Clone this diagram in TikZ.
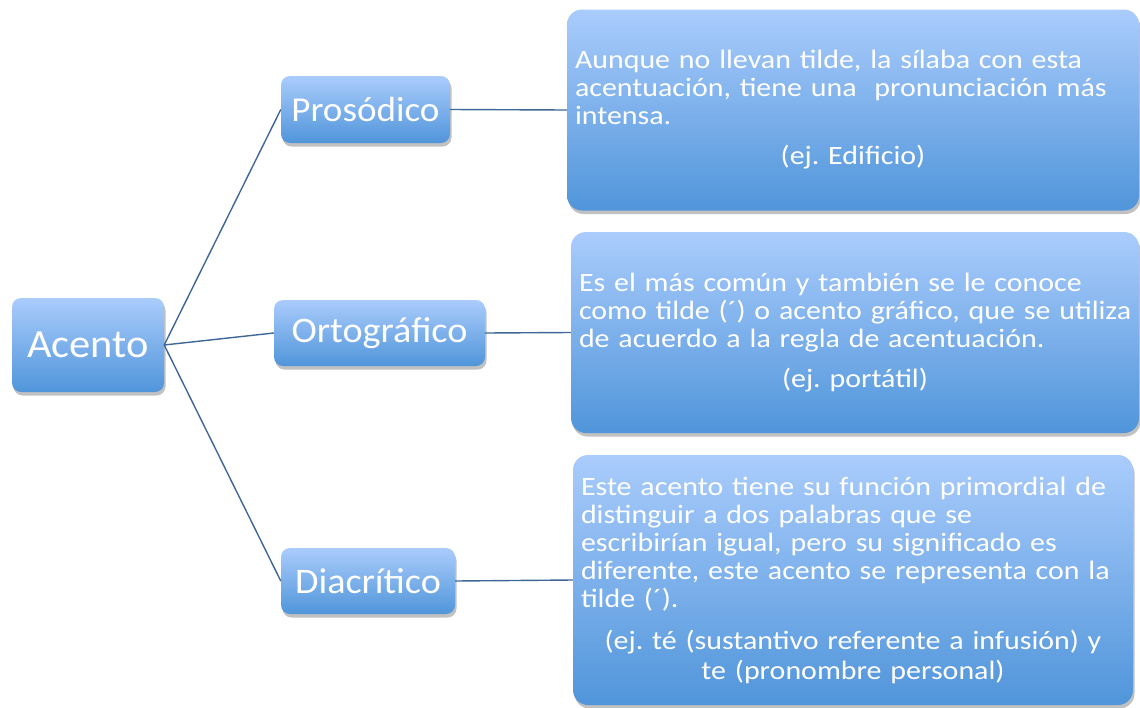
\documentclass[tikz,border=0pt]{standalone}
\usepackage{fontspec}
\setmainfont[FakeStretch=1.06]{Carlito}
\newfontfamily\boxfont[FakeStretch=1.13]{Carlito}
\usetikzlibrary{shadows}
\definecolor{gtop}{RGB}{170,204,252}
\definecolor{gbot}{RGB}{80,149,218}
\definecolor{linec}{RGB}{62,103,151}
\tikzset{
  blk/.style={rounded corners=9pt, top color=gtop, bottom color=gbot, draw=none,
    text=white, inner sep=0pt, align=center,
    drop shadow={shadow xshift=1.5pt, shadow yshift=-3.5pt, opacity=0.35, fill=black!70}},
  bigblk/.style={blk, rounded corners=15pt, align=left, inner xsep=8pt,
    font=\boxfont\fontsize{26.5}{28}\selectfont},
  conn/.style={draw=linec, line width=1.4pt},
}
\newcommand{\ctrline}[1]{\makebox[\linewidth][c]{#1}}
\begin{document}
\frenchspacing
\hyphenpenalty=10000
\begin{tikzpicture}[x=1pt,y=-1pt]
\useasboundingbox (0,0) rectangle (1140,707);
\node[blk, minimum width=152pt, minimum height=94pt, font=\fontsize{40}{44}\selectfont] (acento) at (88,345) {Acento};
\node[blk, minimum width=169pt, minimum height=67pt, font=\fontsize{35}{40}\selectfont] (pros) at (365.5,109.5) {Prosódico};
\node[blk, minimum width=211pt, minimum height=66pt, font=\fontsize{36}{40}\selectfont] (orto) at (379.5,333) {Ortográfico};
\node[blk, minimum width=174pt, minimum height=66pt, font=\fontsize{36}{40}\selectfont] (diac) at (368,581) {Diacrítico};
\node[bigblk, text width=556pt, minimum height=201pt] (b1) at (853,110)
 {Aunque no llevan tilde, la sílaba con esta\\ acentuación, tiene una\ \ pronunciación más\\ intensa.\\[12pt]
  \ctrline{(ej. Edificio)}};
\node[bigblk, text width=552pt, minimum height=201pt] (b2) at (855,332.5)
 {Es el más común y también se le conoce\\ \mbox{como tilde (´) o acento gráfico, que se utiliza}\\ de acuerdo a la regla de acentuación.\\[12pt]
  \ctrline{(ej. portátil)}};
\node[bigblk, text width=544pt, minimum height=250pt] (b3) at (853,580)
 {Este acento tiene su función primordial de\\ distinguir a dos palabras que se\\ escribirían igual, pero su significado es\\ diferente, este acento se representa con la\\ tilde (´).\\[14pt]
  \ctrline{(ej. té (sustantivo referente a infusión) y}\\[2pt]
  \ctrline{te (pronombre personal)}};
\draw[conn] (acento.east) -- (pros.west);
\draw[conn] (acento.east) -- (orto.west);
\draw[conn] (acento.east) -- (diac.west);
\draw[conn] (pros.east) -- (b1.west);
\draw[conn] (orto.east) -- (b2.west);
\draw[conn] (diac.east) -- (b3.west);
\end{tikzpicture}
\end{document}
